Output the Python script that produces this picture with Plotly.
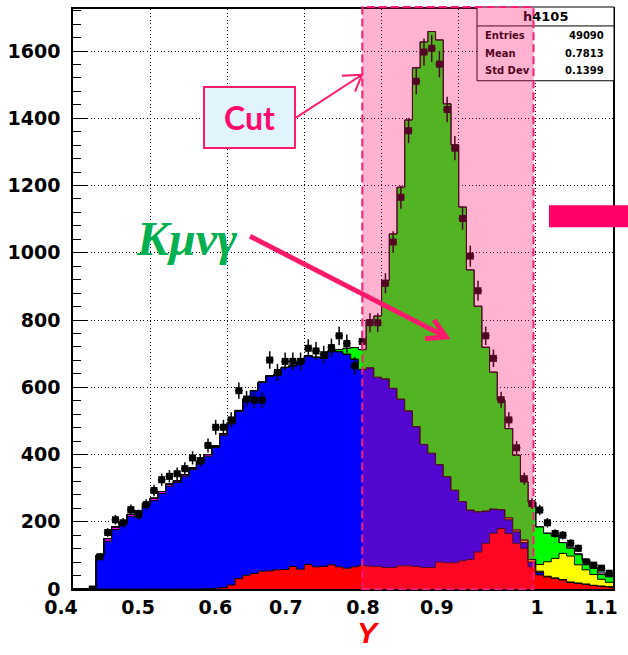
import numpy as np
import plotly.graph_objects as go

# histogram binning: 70 bins of width 0.01 between 0.40 and 1.10
bin_lo, bin_w, n_bins = 0.40, 0.01, 70
x_range = [0.40, 1.10]
y_range = [0, 1725]

# stacked MC components, bin contents from 0.40 upwards (10 bins per row)
red = [0, 0, 0, 0, 0, 0, 0, 0, 0, 0,
       0, 0, 0, 0, 0, 0, 0, 1, 2, 4,
       12, 31, 41, 46, 53, 54, 57, 58, 67, 59,
       73, 66, 67, 72, 66, 62, 66, 70, 68, 67,
       64, 64, 69, 69, 67, 64, 64, 80, 78, 78,
       84, 88, 110, 136, 166, 180, 165, 136, 121, 66,
       42, 36, 32, 27, 20, 17, 14, 10, 8, 6]
blue = [0, 0, 0, 101, 142, 177, 193, 216, 225, 250,
        263, 284, 306, 317, 335, 355, 372, 394, 419, 453,
        479, 497, 521, 544, 562, 580, 580, 601, 597, 615,
        621, 623, 620, 634, 640, 637, 618, 583, 590, 563,
        561, 533, 496, 461, 416, 366, 340, 290, 256, 216,
        176, 147, 120, 96, 72, 56, 41, 34, 17, 14,
        8, 2, 1, 1, 1, 1, 1, 1, 1, 1]
magenta = [0, 0, 0, 0, 8, 8, 5, 6, 7, 5,
           7, 6, 6, 5, 5, 5, 6, 5, 4, 5,
           4, 3, 3, 0, 0, 0, 0, 0, 0, 0] + [0] * 40
orange = [0] * 50 + [0, 0, 0, 0, 0, 0, 6, 6, 8, 8,
                     3, 0, 0, 0, 0, 0, 0, 0, 0, 0]
yellow = [0] * 60 + [20, 43, 58, 78, 77, 54, 42, 32, 20, 13]
green = [0] * 30 + [0, 0, 0, 2, 6, 17, 34, 59, 142, 182,
                    293, 459, 630, 865, 1067, 1197, 1254, 1263, 1109, 1027,
                    876, 714, 611, 487, 407, 325, 265, 222, 173, 170,
                    112, 85, 67, 32, 24, 30, 27, 18, 14, 16]
gray = [0] * 60 + [0, 0, 0, 0, 0, 3, 4, 4, 5, 4]

# data points
data = [np.nan, np.nan, 0, 96, 168, 206, 197, 236, 221, 251,
        293, 325, 335, 343, 358, 390, 382, 427, 481, 481,
        503, 590, 565, 562, 562, 681, 644, 677, 677, 677,
        716, 708, 697, 718, 753, 730, 664, 736, 792, 792,
        909, 1032, 1165, 1363, 1510, 1597, 1608, 1561, 1426, 1311,
        1102, 990, 887, 753, 686, 563, 503, 420, 328, 254,
        235, 197, 165, 160, 136, 121, 81, 71, 62, 47]

NB = "\u00a0"
x_ticks = [0.4, 0.5, 0.6, 0.7, 0.8, 0.9, 1.0, 1.1]
# the picture's labels sit a little off their ticks; padded to follow it
x_ticktext = ["0.4", "0.5", "0.6", "0.7" + NB * 2, "0.8" + NB * 2,
              "0.9" + NB * 3, NB * 4 + "1", "1.1"]
y_ticks = [0, 200, 400, 600, 800, 1000, 1200, 1400, 1600]

stats = [("Entries", "49090"), ("Mean", "0.7813"), ("Std Dev", "0.1399")]
cut_lo, cut_hi = 0.775, 0.997

W, H = 628, 655
L, R, T, B = 73, 15, 7, 66
PW, PH = W - L - R, H - T - B


def px(x):
    return (x - L) / PW


def py(y):
    return (T + PH - y) / PH


def dx(v):
    return (v - x_range[0]) / (x_range[1] - x_range[0])


edges = bin_lo + bin_w * np.arange(n_bins + 1)
centers = edges[:-1] + bin_w / 2

layers = [(red, "#ff0000"), (blue, "#0000ff"), (magenta, "#ff00ff"),
          (orange, "#ffa500"), (yellow, "#ffff00"), (green, "#00ff00"),
          (gray, "#a8a8a8")]

fig = go.Figure()
cum = np.zeros(n_bins)
for i, (vals, col) in enumerate(layers):
    cum = cum + np.asarray(vals, float)
    fig.add_trace(go.Scatter(
        x=edges, y=np.append(cum, cum[-1]), mode="lines", line_shape="hv",
        line=dict(color="black", width=1), fill="tozeroy" if i == 0 else "tonexty",
        fillcolor=col, showlegend=False, hoverinfo="skip"))

d = np.asarray(data, float)
fig.add_trace(go.Scatter(
    x=centers, y=d, mode="markers",
    marker=dict(symbol="square", size=7, color="black"),
    error_y=dict(type="data", array=np.sqrt(np.nan_to_num(d)), color="black",
                 thickness=1.5, width=0),
    error_x=dict(type="constant", value=bin_w / 2, color="black",
                 thickness=1.5, width=0),
    showlegend=False))

tickfont = dict(family="DejaVu Sans", size=19, color="black", weight="bold")
grid = dict(showgrid=True, gridcolor="black", griddash="1px,2.5px", gridwidth=1,
            showline=True, mirror=True, linecolor="black", linewidth=1.5,
            zeroline=False, tickfont=tickfont)
fig.update_xaxes(range=x_range, tickvals=x_ticks, ticktext=x_ticktext,
                 ticks="", ticklabelshift=-12, **grid)
fig.update_yaxes(range=y_range, tickvals=y_ticks, ticks="inside", ticklen=15,
                 tickcolor="black", ticklabelstandoff=7,
                 minor=dict(ticks="inside", ticklen=8, tickmode="linear",
                            tick0=0, dtick=40, tickcolor="black", showgrid=False),
                 **grid)

maroon = "#520623"
pink = "#ff1a6e"
shapes = [
    # white patch behind the label
    dict(type="rect", xref="paper", yref="paper", x0=px(100), x1=px(250),
         y0=py(273), y1=py(197), fillcolor="white", line_width=0, layer="between"),
    # stats box
    dict(type="rect", xref="paper", yref="paper", x0=px(477), x1=px(614),
         y0=py(79), y1=py(5), fillcolor="white", line=dict(color="black", width=1),
         layer="above"),
    dict(type="line", xref="paper", yref="paper", x0=px(477), x1=px(614),
         y0=py(24), y1=py(24), line=dict(color="black", width=1), layer="above"),
    # cut window
    dict(type="rect", xref="paper", yref="paper", x0=dx(cut_lo), x1=dx(cut_hi),
         y0=0, y1=py(5), fillcolor="rgba(255,20,110,0.32)",
         line=dict(color="#ff1a75", width=2, dash="8px,4px"), layer="above"),
    # arrows
    dict(type="path", xref="paper", yref="paper", layer="above",
         path=f"M{px(296)},{py(116)} L{px(362)},{py(73)} M{px(342)},{py(74)} "
              f"L{px(362)},{py(73)} L{px(355)},{py(90)}",
         line=dict(color=pink, width=2)),
    dict(type="path", xref="paper", yref="paper", layer="above",
         path=f"M{px(250)},{py(235)} L{px(446)},{py(336)} M{px(425)},{py(338)} "
              f"L{px(446)},{py(336)} L{px(434)},{py(319)}",
         line=dict(color=pink, width=5)),
    # slide marker bar on the right
    dict(type="rect", xref="paper", yref="paper", x0=px(549), x1=px(632),
         y0=py(226), y1=py(204), fillcolor="#ff0066", line_width=0, layer="above"),
]
fig.update_layout(shapes=shapes)

ann = [
    dict(x=px(249.5), y=py(115.5), text="<b>Cut</b>", width=89, height=59,
         bgcolor="#e1f3fb", bordercolor=pink, borderwidth=2, borderpad=0,
         font=dict(family="Lato", size=32, color="#ff0a6c")),
    dict(x=px(186), y=py(237), text="<b><i>Kμνγ</i></b>",
         font=dict(family="Liberation Serif", size=48, color="#00b050")),
    dict(x=px(368), y=py(633), text="<b><i>Y</i></b>",
         font=dict(family="Liberation Sans", size=30, color="#ff0000")),
    dict(x=px(545), y=py(15), text=f"<span style='color:{maroon}'>h</span>4105",
         font=dict(family="DejaVu Sans", size=13, color="black", weight="bold")),
]
for k, (lab, val) in enumerate(stats):
    yy = py(34 + 17.5 * k)
    ann.append(dict(x=px(483), y=yy, text=lab, xanchor="left",
                    font=dict(family="DejaVu Sans", size=10, color=maroon,
                              weight="bold")))
    ann.append(dict(x=px(606), y=yy, text=val, xanchor="right",
                    font=dict(family="DejaVu Sans", size=10, color="black",
                              weight="bold")))
for a in ann:
    a.update(xref="paper", yref="paper", showarrow=False)
    a.setdefault("xanchor", "center")
    a.setdefault("yanchor", "middle")
fig.update_layout(annotations=ann)

fig.update_layout(width=W, height=H, margin=dict(l=L, r=R, t=T, b=B),
                  paper_bgcolor="white", plot_bgcolor="white", showlegend=False)
fig.write_html("out.html", config={"displayModeBar": False},
               post_script="document.body.style.margin = '0';")
